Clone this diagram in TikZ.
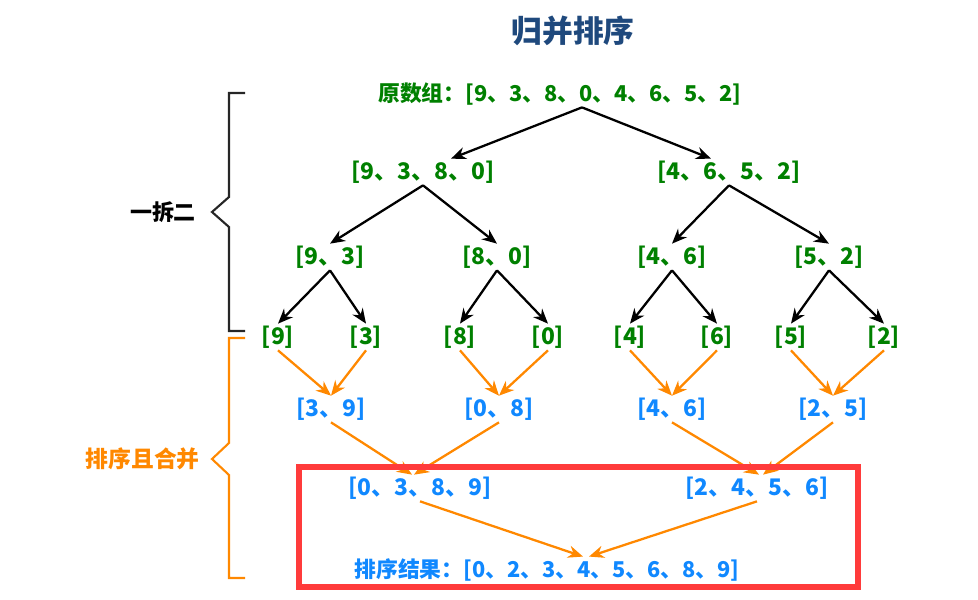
\documentclass[tikz,border=0pt]{standalone}
\usepackage{fontspec}
\setmainfont{Noto Sans CJK SC}
\usetikzlibrary{arrows.meta,calc}
\definecolor{grn}{RGB}{0,128,0}
\definecolor{blu}{RGB}{16,136,255}
\definecolor{org}{RGB}{255,136,0}
\definecolor{ttl}{RGB}{31,73,125}
\definecolor{rd}{RGB}{255,59,59}
\tikzset{>={Stealth[length=8.5pt,width=7pt]},font=\fontsize{13pt}{15pt}\selectfont\bfseries}
\tikzset{
  split/.style={text=grn,inner sep=1pt},
  merge/.style={text=blu,inner sep=1pt},
  wide/.style={font=\fontsize{12.4pt}{15pt}\selectfont\bfseries},
  down/.style={->,line width=1.3pt,black},
  up/.style={->,line width=1.3pt,org},
}

\begin{document}
\begin{tikzpicture}[x=0.02cm,y=-0.02cm]
\useasboundingbox (0,0) rectangle (978,599);
\node[text=ttl,font=\fontsize{17.5pt}{20pt}\selectfont\bfseries] (T) at (573,31) {归并排序};
% splitting
\node[split,wide] (A) at (560,94) {原数组：[9、3、8、0、4、6、5、2]};
\node[split] (B1) at (423,172) {[9、3、8、0]};
\node[split] (B2) at (729,172) {[4、6、5、2]};
\node[split] (C1) at (330,257) {[9、3]};
\node[split] (C2) at (497,257) {[8、0]};
\node[split] (C3) at (672,257) {[4、6]};
\node[split] (C4) at (829,257) {[5、2]};
\node[split] (D1) at (278,337) {[9]};
\node[split] (D2) at (366,337) {[3]};
\node[split] (D3) at (460,337) {[8]};
\node[split] (D4) at (548,337) {[0]};
\node[split] (D5) at (630,337) {[4]};
\node[split] (D6) at (717,337) {[6]};
\node[split] (D7) at (791,337) {[5]};
\node[split] (D8) at (884,337) {[2]};
% merging
\node[merge] (E1) at (331,409) {[3、9]};
\node[merge] (E2) at (499,409) {[0、8]};
\node[merge] (E3) at (672,409) {[4、6]};
\node[merge] (E4) at (833,409) {[2、5]};
\node[merge] (F1) at (420,488) {[0、3、8、9]};
\node[merge] (F2) at (757,488) {[2、4、5、6]};
\node[merge,wide] (R) at (547,570) {排序结果：[0、2、3、4、5、6、8、9]};

\draw[down] ($(A.south)+(22,0)$) -- ($(B1.north)+(28,0)$);
\draw[down] ($(A.south)+(22,0)$) -- ($(B2.north)+(-18,0)$);
\draw[down] (B1.south) -- (C1.north);
\draw[down] (B1.south) -- (C2.north);
\draw[down] (B2.south) -- (C3.north);
\draw[down] (B2.south) -- (C4.north);
\draw[down] (C1.south) -- (D1.north);
\draw[down] (C1.south) -- (D2.north);
\draw[down] (C2.south) -- (D3.north);
\draw[down] (C2.south) -- (D4.north);
\draw[down] (C3.south) -- (D5.north);
\draw[down] (C3.south) -- (D6.north);
\draw[down] (C4.south) -- (D7.north);
\draw[down] (C4.south) -- (D8.north);

\draw[up] (D1.south) -- (E1.north);
\draw[up] (D2.south) -- (E1.north);
\draw[up] (D3.south) -- (E2.north);
\draw[up] (D4.south) -- (E2.north);
\draw[up] (D5.south) -- (E3.north);
\draw[up] (D6.south) -- (E3.north);
\draw[up] (D7.south) -- (E4.north);
\draw[up] (D8.south) -- (E4.north);
\draw[up] (E1.south) -- ($(F1.north)+(-8,0)$);
\draw[up] (E2.south) -- ($(F1.north)+(-6,0)$);
\draw[up] (E3.south) -- ($(F2.north)+(2,0)$);
\draw[up] (E4.south) -- ($(F2.north)+(6,0)$);
\draw[up] (F1.south) -- ($(R.north)+(36,0)$);
\draw[up] (F2.south) -- ($(R.north)+(42,0)$);

% braces on the left
\draw[line width=1.2pt,black!85] (245,93) -- (229,93) -- (229,197) -- (212,212) -- (229,227) -- (229,331) -- (245,331);
\node[font=\fontsize{12.5pt}{15pt}\selectfont\bfseries] (S) at (163,212) {一拆二};
\draw[line width=1.2pt,org] (245,338) -- (229,338) -- (229,443) -- (212,459) -- (229,475) -- (229,578) -- (245,578);
\node[text=org,anchor=east] (M) at (206,459) {排序且合并};

% result frame
\draw[rd,line width=3.1pt] (299,467) rectangle (858,587);
\end{tikzpicture}
\end{document}
